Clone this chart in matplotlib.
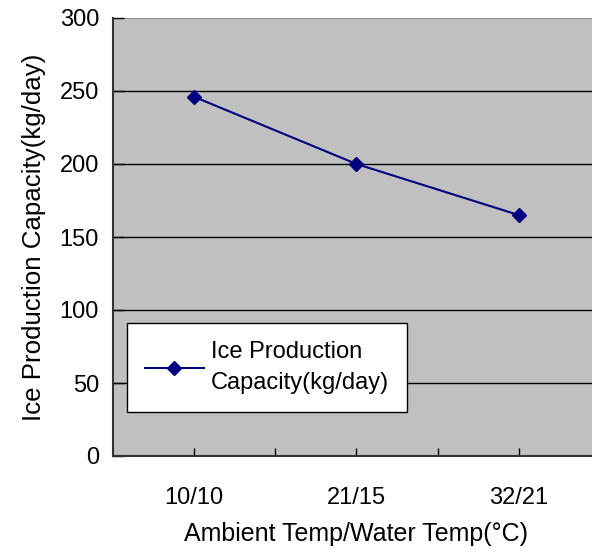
import matplotlib.pyplot as plt

categories = ["10/10", "21/15", "32/21"]
capacity = [246, 200, 165]
series_name = "Ice Production\nCapacity(kg/day)"

plt.rcParams["font.family"] = ["Liberation Sans", "DejaVu Sans"]

fig = plt.figure(figsize=(5.92, 5.56), dpi=100)
# plot area runs past the right edge of the picture, as in the reference
ax = fig.add_axes([113 / 592, 100 / 556, 487 / 592, 438 / 556])
ax.set_facecolor("#c0c0c0")

x = list(range(len(categories)))
ax.plot(x, capacity, color="#000080", lw=1.5, marker="D", ms=7,
        label=series_name)

ax.set_xlim(-0.5, 2.5)
ax.set_ylim(0, 300)
ax.set_yticks(range(0, 301, 50))
for y in range(50, 300, 50):
    ax.axhline(y, color="black", lw=1, zorder=0.5)
ax.axhline(300, color="#909090", lw=1.5, zorder=0.5)

ax.set_xticks(x)
ax.set_xticklabels(categories)
ax.set_xticks([0.5, 1.5], minor=True)
ax.tick_params(axis="x", which="both", direction="in", length=6, width=1,
               labelsize=17, pad=22)
ax.tick_params(axis="y", direction="in", length=8, width=1, labelsize=17, pad=10)

for side in ["top", "right"]:
    ax.spines[side].set_visible(False)
ax.spines["left"].set_color("#333333")
ax.spines["bottom"].set_color("#333333")
ax.spines["left"].set_linewidth(1.5)
ax.spines["bottom"].set_linewidth(1.5)

ax.set_xlabel("Ambient Temp/Water Temp(°C)", fontsize=18, labelpad=10)
ax.set_ylabel("Ice Production Capacity(kg/day)", fontsize=18.6, labelpad=10)

leg = ax.legend(loc="lower left", bbox_to_anchor=(14 / 487, 44 / 438),
                borderaxespad=0, frameon=True, fancybox=False, fontsize=17,
                handlelength=2.5, handletextpad=0.3, borderpad=0.75)
leg.get_texts()[0].set_linespacing(1.55)
leg.get_frame().set_edgecolor("black")
leg.get_frame().set_linewidth(1)
leg.get_frame().set_facecolor("white")
leg.get_frame().set_alpha(1)

fig.savefig("out.png", dpi=100)
